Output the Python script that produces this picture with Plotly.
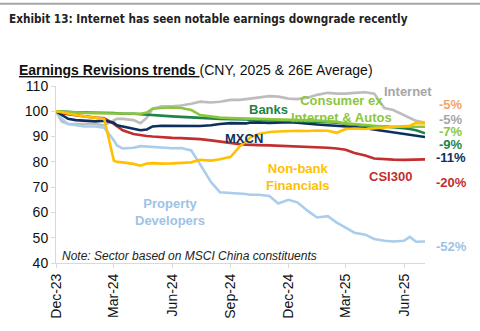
import plotly.graph_objects as go

dates = ["2023-12-01", "2023-12-10", "2023-12-20", "2024-01-01", "2024-01-15", "2024-02-01",
         "2024-02-15", "2024-03-01", "2024-03-06", "2024-03-15", "2024-04-01", "2024-04-12",
         "2024-04-22", "2024-05-01", "2024-05-15", "2024-06-01", "2024-06-15", "2024-07-01",
         "2024-07-15", "2024-08-01", "2024-08-15", "2024-09-01", "2024-09-15", "2024-09-25",
         "2024-10-01", "2024-10-15", "2024-11-01", "2024-11-15", "2024-12-01", "2024-12-15",
         "2025-01-01", "2025-01-15", "2025-02-01", "2025-02-15", "2025-03-01", "2025-03-15",
         "2025-04-01", "2025-04-15", "2025-05-01", "2025-05-15", "2025-06-01", "2025-06-10",
         "2025-06-20", "2025-07-04"]

internet = [100, 96, 95, 95, 95, 95, 94.5, 96.5, 97, 97, 96.5, 95.3, 97.5, 101, 102, 102,
            102.3, 103, 103.8, 103.5, 103.8, 104.5, 104.5, 104.8, 105, 105.5, 106, 105.8, 105,
            104.8, 105.5, 106.5, 107.3, 107, 107, 107.3, 107.5, 107, 101.3, 100.5, 98.5, 97.5,
            96.2, 95.5]
banks = [100, 99.8, 99.7, 99.6, 99.5, 99.5, 99.4, 99.3, 99.2, 99, 99, 98.8, 98.5, 98.3, 98.2,
         98, 97.8, 97.5, 97.3, 97.2, 97, 97, 96.8, 96.8, 96.7, 96.6, 96.5, 96.5, 96.4, 96.2,
         96, 95.8, 95.7, 95.5, 95, 94.7, 94.3, 94, 94, 93.8, 93.3, 93, 92.5, 91.3]
consumer = [100, 99.8, 99.6, 99.4, 99.3, 99.2, 99.2, 99, 99, 99, 99, 99, 99.5, 101, 101.3,
            101.5, 101.3, 100.5, 98.5, 97.8, 97.5, 97.3, 97.2, 97.2, 97.3, 97.2, 97, 96.8,
            96.8, 96.6, 96.5, 96.3, 96, 95.8, 95.2, 95, 94.7, 94.3, 94, 93.9, 93.8, 93.8,
            93.9, 93.9]
mxcn = [100, 98.5, 97, 96.5, 96.2, 96, 96.3, 95.5, 94.5, 94, 93, 92.5, 92.8, 94, 94.3, 94.3,
        94.3, 94.4, 94.2, 94.5, 95, 95.3, 95.3, 95.2, 95.5, 95.6, 95.4, 95.5, 95.7, 95.5, 95,
        94.8, 94.5, 94.3, 94, 93.8, 93.3, 92.8, 92.3, 91.8, 91.2, 90.8, 90.3, 89.8]
csi300 = [100, 99.2, 98.8, 98.3, 98, 97.5, 97.2, 95, 94, 92.5, 91, 90.5, 90.2, 90, 89.7, 89.5,
          89.4, 89.3, 89, 88.5, 88, 87.3, 87, 86.8, 86.7, 86.6, 86.5, 86.4, 86.3, 86.2, 86,
          85.8, 85.6, 85.3, 84.8, 83.5, 82.5, 81.3, 81, 80.9, 80.8, 80.8, 80.9, 81]
property_dev = [100, 97, 95, 94.5, 94, 94, 93.5, 88.5, 86.5, 85.3, 85.6, 86.2, 86, 85.8, 85.5,
                85.4, 85.5, 84.5, 79, 72, 68, 67.8, 67.5, 67.3, 67, 67, 66.5, 63.5, 65, 64,
                60.5, 58, 58.5, 56, 54, 52, 51.2, 49.5, 48.8, 48.5, 48.8, 50.3, 48.4, 48.5]
nonbank = [100, 99.5, 99, 98.5, 98, 97.5, 97, 80.5, 80, 79.8, 79.2, 78.5, 79.3, 79.5, 79.3,
           79.4, 79.7, 79.8, 80.8, 80.5, 81, 82, 86, 88, 89.5, 91, 91.8, 92, 92.3, 92.3, 92.2,
           92.4, 92.3, 91.5, 93, 93.2, 93, 93.2, 93.5, 93.8, 94, 94.3, 95.4, 95.2]

end_labels = ["-5%", "-5%", "-7%", "-9%", "-11%", "-20%", "-52%"]
end_label_y = [102.7, 96.9, 92.0, 87.0, 81.6, 72.0, 46.4]
end_label_colors = ["#F5A36B", "#A6A6A6", "#8CC63F", "#1E8449", "#0D2F5E", "#C32E2E", "#9DC3E6"]

series = [
    ("Internet", internet, "#BDBDBD"),
    ("Property Developers", property_dev, "#A9CDEB"),
    ("CSI300", csi300, "#C32E2E"),
    ("MXCN", mxcn, "#0D2F5E"),
    ("Banks", banks, "#1E8449"),
    ("Consumer ex Internet & Autos", consumer, "#8CC63F"),
    ("Non-bank Financials", nonbank, "#FFC000"),
]

FONT = "Arial, 'Liberation Sans', sans-serif"

fig = go.Figure()
for name, vals, col in series:
    fig.add_trace(go.Scatter(x=dates, y=vals, mode="lines", name=name,
                             line=dict(color=col, width=2.6), showlegend=False))

ann = []
series_labels = [
    ("Internet", "2025-06-08", 107.7, "#A6A6A6"),
    ("Banks", "2024-10-31", 100.8, "#1E8449"),
    ("Consumer ex<br>Internet & Autos", "2025-02-23", 101.0, "#8CC63F"),
    ("MXCN", "2024-09-22", 89.3, "#0D2F5E"),
    ("Non-bank<br>Financials", "2024-12-16", 74.1, "#FFC000"),
    ("CSI300", "2025-05-11", 74.3, "#C32E2E"),
    ("Property<br>Developers", "2024-05-29", 60.3, "#9DC3E6"),
]
for txt, xd, yv, col in series_labels:
    ann.append(dict(x=xd, y=yv, xref="x", yref="y", text="<b>" + txt + "</b>",
                    showarrow=False, font=dict(family=FONT, size=13, color=col),
                    xanchor="center", yanchor="middle", align="center"))

for txt, yv, col in zip(end_labels, end_label_y, end_label_colors):
    ann.append(dict(x=1.0705, y=yv, xref="paper", yref="y", text="<b>" + txt + "</b>",
                    showarrow=False, font=dict(family=FONT, size=13, color=col),
                    xanchor="center", yanchor="middle", borderpad=0))

ann.append(dict(x=0.011, y=42.7, xref="paper", yref="y",
                text="<i>Note: Sector based on MSCI China constituents</i>",
                showarrow=False, font=dict(family=FONT, size=12, color="#222222"),
                xanchor="left", yanchor="middle"))

ann.append(dict(x=-0.1328, y=1.377, xref="paper", yref="paper",
                text="<b>Exhibit 13: Internet has seen notable earnings downgrade recently</b>",
                showarrow=False,
                font=dict(family="'Liberation Sans Narrow', 'DejaVu Sans Condensed', Arial", size=11.7, color="#222222"),
                xanchor="left", yanchor="middle"))
ann.append(dict(x=-0.1057, y=1.093, xref="paper", yref="paper",
                text="<span style='text-decoration:underline'><b>Earnings Revisions trends </b></span>(CNY, 2025 & 26E Average)",
                showarrow=False, font=dict(family=FONT, size=14, color="#111111"),
                xanchor="left", yanchor="middle"))

fig.update_layout(
    width=480, height=331,
    margin=dict(l=56, r=55, t=86, b=62),
    paper_bgcolor="white", plot_bgcolor="white",
    annotations=ann,
    shapes=[dict(type="line", xref="paper", yref="paper", x0=-0.152, x1=1.15,
                 y0=1.4645, y1=1.4645, line=dict(color="#A6A6A6", width=2))],
    font=dict(family=FONT, color="#222222"),
)
fig.update_xaxes(
    type="date", range=["2023-12-01", "2025-07-04"],
    tick0="2023-12-01", dtick="M3", tickformat="%b-%y", tickangle=-90,
    showgrid=False, showline=True, linecolor="#D9D9D9", linewidth=1,
    ticks="outside", ticklen=4, tickcolor="#D9D9D9",
    tickfont=dict(family=FONT, size=14, color="#111111"), zeroline=False,
)
fig.update_yaxes(
    range=[40, 110], dtick=10, showgrid=False, showline=True, linecolor="#D9D9D9",
    linewidth=1, ticks="outside", ticklen=4, tickcolor="#D9D9D9",
    tickfont=dict(family=FONT, size=14, color="#111111"), zeroline=False,
)

fig.write_html("out.html")
